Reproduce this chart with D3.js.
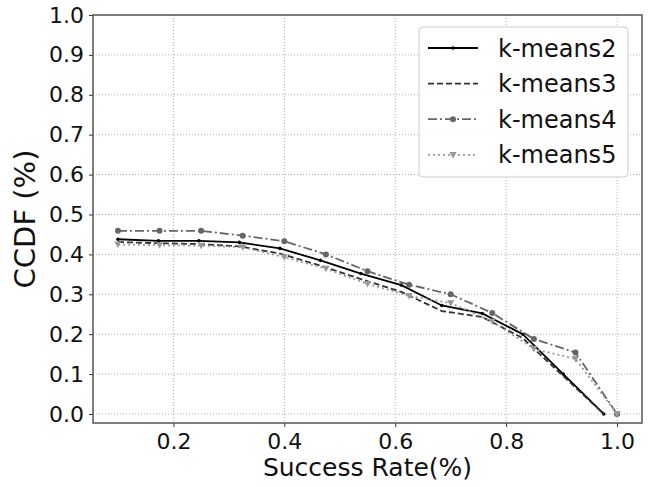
<!DOCTYPE html>
<html>
<head>
<meta charset="utf-8">
<script src="https://cdn.jsdelivr.net/npm/d3@7"></script>
<style>
  html, body { margin: 0; padding: 0; background: #fff; }
  svg { display: block; font-family: "DejaVu Sans", sans-serif; }
</style>
</head>
<body>
<svg id="chart" width="651" height="487"></svg>
<script>
// ---- data ----
const xA = [0.1, 0.173, 0.246, 0.319, 0.392, 0.465, 0.538, 0.611, 0.684, 0.757, 0.83, 0.903, 0.976];
const xB = [0.1, 0.175, 0.25, 0.325, 0.4, 0.475, 0.55, 0.625, 0.7, 0.775, 0.85, 0.925, 1.0];
const kmeans2 = [0.438, 0.434, 0.434, 0.43, 0.415, 0.385, 0.352, 0.323, 0.272, 0.252, 0.2, 0.1, 0.0];
const kmeans3 = [0.431, 0.428, 0.426, 0.42, 0.402, 0.372, 0.338, 0.306, 0.258, 0.243, 0.19, 0.095, 0.0];
const kmeans4 = [0.459, 0.459, 0.459, 0.447, 0.433, 0.40, 0.358, 0.324, 0.30, 0.253, 0.188, 0.154, 0.0];
const kmeans5 = [0.425, 0.423, 0.422, 0.418, 0.393, 0.364, 0.326, 0.296, 0.278, 0.232, 0.163, 0.138, 0.0];
const seriesNames = ["k-means2", "k-means3", "k-means4", "k-means5"];
const xTicks = [0.2, 0.4, 0.6, 0.8, 1.0];
const yTicks = [0.0, 0.1, 0.2, 0.3, 0.4, 0.5, 0.6, 0.7, 0.8, 0.9, 1.0];
const xLabel = "Success Rate(%)";
const yLabel = "CCDF (%)";

// ---- layout ----
const svg = d3.select("#chart");
const plot = { left: 93, right: 642, top: 15, bottom: 423 };
const x = d3.scaleLinear().domain([0.055, 1.045]).range([plot.left, plot.right]);
const y = d3.scaleLinear().domain([-0.0226, 1.0]).range([plot.bottom, plot.top]);

const styles = [
  { name: seriesNames[0], xs: xA, ys: kmeans2, color: "#000000", dash: null, marker: "dot" },
  { name: seriesNames[1], xs: xA, ys: kmeans3, color: "#333333", dash: "6,3", marker: null },
  { name: seriesNames[2], xs: xB, ys: kmeans4, color: "#666666", dash: "9,3,2,3", marker: "circle" },
  { name: seriesNames[3], xs: xB, ys: kmeans5, color: "#999999", dash: "2,3", marker: "tri" }
];

// grid
const grid = svg.append("g");
xTicks.forEach(t => grid.append("line")
  .attr("x1", x(t)).attr("x2", x(t)).attr("y1", plot.top).attr("y2", plot.bottom)
  .attr("stroke", "#b0b0b0").attr("stroke-width", 1).attr("stroke-dasharray", "1,2"));
yTicks.forEach(t => grid.append("line")
  .attr("x1", plot.left).attr("x2", plot.right).attr("y1", y(t)).attr("y2", y(t))
  .attr("stroke", "#b0b0b0").attr("stroke-width", 1).attr("stroke-dasharray", "1,2"));

// lines
function drawMarker(g, m, cx, cy, color) {
  if (m === "dot") {
    g.append("circle").attr("cx", cx).attr("cy", cy).attr("r", 1.8).attr("fill", color);
  } else if (m === "circle") {
    g.append("circle").attr("cx", cx).attr("cy", cy).attr("r", 3).attr("fill", color);
  } else if (m === "tri") {
    const s = 3.6;
    g.append("path").attr("d", `M${cx - s},${cy - s * 0.8}L${cx + s},${cy - s * 0.8}L${cx},${cy + s * 1.0}Z`)
      .attr("fill", color);
  }
}
const lineGen = d3.line().x(d => x(d[0])).y(d => y(d[1]));
const linesG = svg.append("g");
styles.forEach(s => {
  const pts = s.xs.map((v, i) => [v, s.ys[i]]);
  linesG.append("path").attr("d", lineGen(pts)).attr("fill", "none")
    .attr("stroke", s.color).attr("stroke-width", 1.8)
    .attr("stroke-dasharray", s.dash);
  if (s.marker) pts.forEach(p => drawMarker(linesG, s.marker, x(p[0]), y(p[1]), s.color));
});

// axes
const xAxis = svg.append("g").attr("transform", `translate(0,${plot.bottom})`)
  .call(d3.axisBottom(x).tickValues(xTicks).tickFormat(d3.format(".1f")).tickSize(4).tickPadding(6));
const yAxis = svg.append("g").attr("transform", `translate(${plot.left},0)`)
  .call(d3.axisLeft(y).tickValues(yTicks).tickFormat(d3.format(".1f")).tickSize(4).tickPadding(5));
[xAxis, yAxis].forEach(a => {
  a.select(".domain").remove();
  a.selectAll(".tick line").attr("stroke", "#333").attr("stroke-width", 1);
  a.selectAll(".tick text").attr("font-size", 22).attr("fill", "#111")
    .attr("font-family", "DejaVu Sans, sans-serif");
});
// frame
svg.append("rect").attr("x", plot.left).attr("y", plot.top)
  .attr("width", plot.right - plot.left).attr("height", plot.bottom - plot.top)
  .attr("fill", "none").attr("stroke", "#555").attr("stroke-width", 1.5);

// axis labels
svg.append("text").attr("x", (plot.left + plot.right) / 2).attr("y", 476)
  .attr("text-anchor", "middle").attr("font-size", 25).attr("fill", "#111").text(xLabel);
svg.append("text").attr("transform", `translate(35,${(plot.top + plot.bottom) / 2}) rotate(-90)`)
  .attr("text-anchor", "middle").attr("font-size", 29).attr("fill", "#111").text(yLabel);

// legend
const leg = svg.append("g");
leg.append("rect").attr("x", 419).attr("y", 27).attr("width", 209).attr("height", 150)
  .attr("rx", 4).attr("fill", "#fff").attr("fill-opacity", 0.85)
  .attr("stroke", "#cccccc").attr("stroke-width", 1);
styles.forEach((s, i) => {
  const cy = 48 + i * 35.6;
  leg.append("line").attr("x1", 428).attr("x2", 478).attr("y1", cy).attr("y2", cy)
    .attr("stroke", s.color).attr("stroke-width", 1.8).attr("stroke-dasharray", s.dash);
  if (s.marker) drawMarker(leg, s.marker, 453, cy, s.color);
  leg.append("text").attr("x", 498).attr("y", cy).attr("dy", "0.36em")
    .attr("font-size", 24).attr("fill", "#111").text(s.name);
});
</script>
</body>
</html>
